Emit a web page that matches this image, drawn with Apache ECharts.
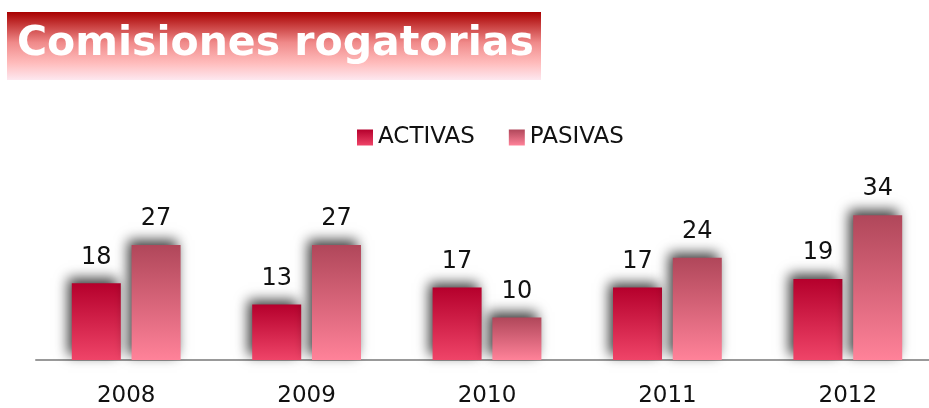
<!DOCTYPE html>
<html lang="es">
<head>
    <meta charset="UTF-8">
    <title>Comisiones rogatorias</title>
    <script src="https://cdn.jsdelivr.net/npm/echarts@6/dist/echarts.min.js"></script>
    <style>
        body { margin: 0; background: #fff; overflow: hidden; }
    </style>
</head>
<body>
    <div id="main" style="width: 938px;height:408px;"></div>
    <script type="text/javascript">
        const years = ['2008', '2009', '2010', '2011', '2012'];
        const activas = [18, 13, 17, 17, 19];
        const pasivas = [27, 27, 10, 24, 34];

        let myChart = echarts.init(document.getElementById('main'));

        const font = '"DejaVu Sans", sans-serif';

        function grad(top, bottom) {
            return new echarts.graphic.LinearGradient(0, 0, 0, 1, [
                { offset: 0, color: top },
                { offset: 1, color: bottom }
            ]);
        }

        const barShadow = {
            shadowColor: 'rgba(0,0,0,0.75)',
            shadowBlur: 12,
            shadowOffsetX: -4,
            shadowOffsetY: -5
        };

        let options = {
            animation: false,
            graphic: [
                {
                    type: 'rect',
                    left: 7, top: 12,
                    shape: { width: 534, height: 68 },
                    style: {
                        fill: new echarts.graphic.LinearGradient(0, 0, 0, 1, [
                            { offset: 0, color: '#a80000' },
                            { offset: 0.45, color: '#f08a8a' },
                            { offset: 0.75, color: '#ffbcbc' },
                            { offset: 1, color: '#fde8f0' }
                        ])
                    }
                },
                {
                    type: 'text',
                    left: 17, top: 24,
                    style: {
                        text: 'Comisiones rogatorias',
                        fill: '#ffffff',
                        font: 'bold 41px ' + font
                    }
                }
            ],
            legend: {
                top: 121,
                left: 352,
                icon: 'rect',
                itemWidth: 16,
                itemHeight: 16,
                itemGap: 34,
                textStyle: { fontSize: 23, color: '#111', fontFamily: font },
                data: ['ACTIVAS', 'PASIVAS']
            },
            grid: { left: 36, right: 0, top: 170, bottom: 46 },
            xAxis: {
                type: 'category',
                data: years,
                axisTick: { show: false },
                axisLine: { lineStyle: { color: '#999', width: 2 } },
                axisLabel: { fontSize: 23, color: '#111', margin: 25, fontFamily: font }
            },
            yAxis: {
                type: 'value',
                min: 0,
                max: 44.6,
                show: false,
                splitLine: { show: false }
            },
            series: [
                {
                    name: 'ACTIVAS',
                    type: 'bar',
                    data: activas,
                    barWidth: 49,
                    barGap: '22%',
                    itemStyle: Object.assign({ color: grad('#b5002c', '#ef4468') }, barShadow),
                    label: {
                        show: true, position: 'top', distance: 14,
                        fontSize: 24, color: '#111', fontFamily: font
                    }
                },
                {
                    name: 'PASIVAS',
                    type: 'bar',
                    data: pasivas,
                    barWidth: 49,
                    itemStyle: Object.assign({ color: grad('#b0475a', '#ff8299') }, barShadow),
                    label: {
                        show: true, position: 'top', distance: 14,
                        fontSize: 24, color: '#111', fontFamily: font
                    }
                }
            ]
        };

        myChart.setOption(options);
    </script>
</body>
</html>
